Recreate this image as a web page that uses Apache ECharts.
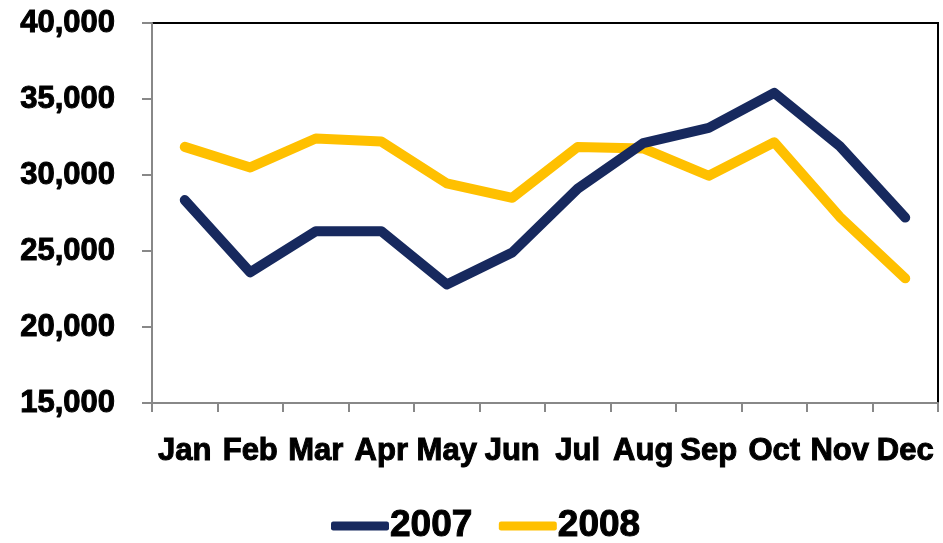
<!DOCTYPE html>
<html>
<head>
<meta charset="utf-8">
<script src="https://cdn.jsdelivr.net/npm/echarts@6/dist/echarts.min.js"></script>
<style>
    html, body { margin: 0; padding: 0; background: #fff; }
    #chart { width: 943px; height: 543px; }
</style>
</head>
<body>
<div id="chart"></div>
<script>
var months = ["Jan", "Feb", "Mar", "Apr", "May", "Jun", "Jul", "Aug", "Sep", "Oct", "Nov", "Dec"];
var sales2007 = [28350, 23600, 26300, 26300, 22800, 24900, 29100, 32100, 33100, 35400, 31900, 27200];
var sales2008 = [31850, 30500, 32400, 32200, 29450, 28500, 31850, 31750, 29950, 32150, 27250, 23200];
var yMin = 15000;
var yMax = 40000;
var yStep = 5000;

var labelFont = "'Liberation Sans', Arial, sans-serif";

function initLineChart() {
    var option = {
        animation: false,
        grid: {
            left: 152,
            right: 5,
            top: 23,
            bottom: 140,
            show: true,
            borderColor: '#000',
            borderWidth: 2
        },
        legend: {
            top: 502,
            left: 326,
            itemWidth: 58,
            itemHeight: 9,
            itemGap: 26,
            icon: 'roundRect',
            textStyle: {
                fontFamily: labelFont,
                fontWeight: 'bold',
                fontSize: 37,
                color: '#000',
                textBorderColor: '#000',
                textBorderWidth: 1,
                padding: [0, 0, 0, -4]
            },
            data: ['2007', '2008']
        },
        xAxis: {
            type: 'category',
            data: months,
            boundaryGap: true,
            axisLine: { lineStyle: { color: '#888', width: 2 } },
            axisTick: { show: true, length: 9, lineStyle: { color: '#888', width: 2 } },
            axisLabel: {
                margin: 33,
                interval: 0,
                fontFamily: labelFont,
                fontWeight: 'bold',
                fontSize: 31,
                color: '#000',
                textBorderColor: '#000',
                textBorderWidth: 1
            }
        },
        yAxis: {
            type: 'value',
            min: yMin,
            max: yMax,
            interval: yStep,
            splitLine: { show: false },
            axisLine: { show: true, lineStyle: { color: '#888', width: 2 } },
            axisTick: { show: true, length: 10, lineStyle: { color: '#888', width: 2 } },
            axisLabel: {
                margin: 37,
                fontFamily: labelFont,
                fontWeight: 'bold',
                fontSize: 31,
                color: '#000',
                textBorderColor: '#000',
                textBorderWidth: 1,
                formatter: function (v) {
                    return v.toLocaleString('en-US');
                }
            }
        },
        series: [
            {
                name: '2007',
                type: 'line',
                data: sales2007,
                symbol: 'none',
                z: 3,
                itemStyle: { color: '#17295e' },
                lineStyle: { color: '#17295e', width: 10, cap: 'round', join: 'round' }
            },
            {
                name: '2008',
                type: 'line',
                data: sales2008,
                symbol: 'none',
                z: 2,
                itemStyle: { color: '#ffc000' },
                lineStyle: { color: '#ffc000', width: 10, cap: 'round', join: 'round' }
            }
        ]
    };

    var myChart = echarts.init(document.getElementById('chart'));
    myChart.setOption(option);
}

initLineChart();
</script>
</body>
</html>
